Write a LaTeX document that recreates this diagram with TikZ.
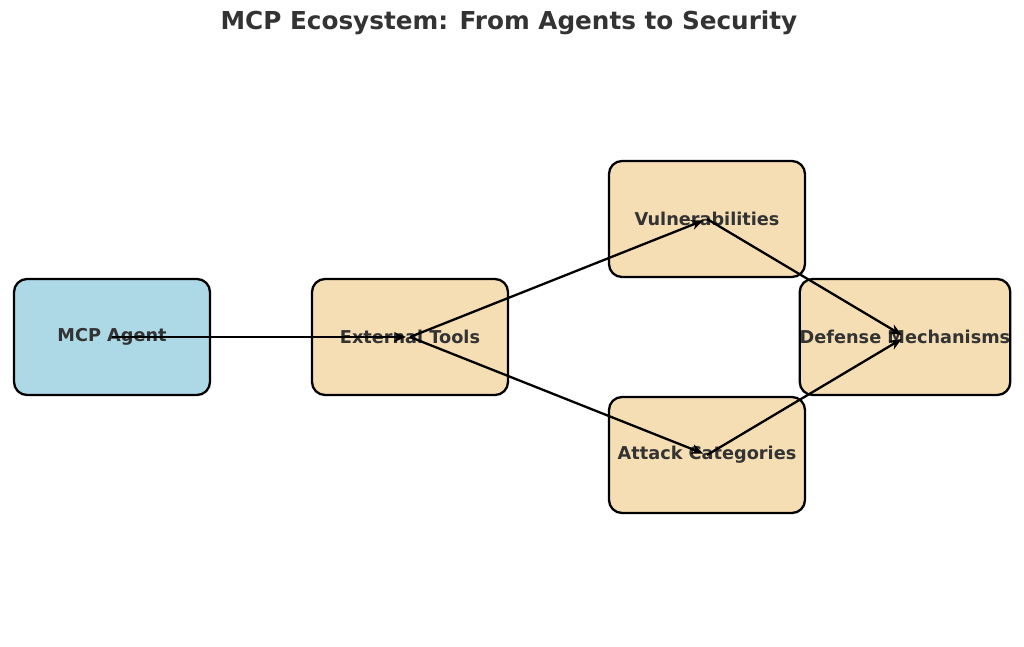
\documentclass[tikz,border=0pt]{standalone}
\usepackage{fontspec}
\setmainfont{DejaVu Sans}
\usetikzlibrary{arrows.meta}
\definecolor{agentblue}{HTML}{ADD8E6}
\definecolor{wheatbox}{HTML}{F5DEB3}
\definecolor{textgray}{HTML}{333333}
\begin{document}
\begin{tikzpicture}[x=1pt,y=-1pt]
\tikzset{box/.style={draw=black,line width=2.3pt,rounded corners=13pt,
  minimum width=196pt,minimum height=116pt,fill=wheatbox,
  font=\bfseries\fontsize{17.7}{20}\selectfont,text=textgray,inner sep=0pt},
  flow/.style={-{Stealth[length=12pt,width=10pt]},line width=2.3pt,shorten >=4pt}}
\useasboundingbox (0,0) rectangle (1024,646);
\node [font=\bfseries\fontsize{24.7}{28}\selectfont,text=textgray] (title) at (509,23) {MCP Ecosystem: From Agents to Security};
% boxes
\node [box,fill=agentblue] (agent) at (112,337) {MCP Agent};
\node [box] (tools) at (410,337) {External Tools};
\node [box] (vuln) at (707,219) {Vulnerabilities};
\node [box] (attack) at (707,455) {Attack Categories};
\node [box] (defense) at (905,337) {Defense Mechanisms};
% connectors
\draw [flow] (agent.center) -- (tools.center);
\draw [flow] (tools.center) -- (vuln.center);
\draw [flow] (tools.center) -- (attack.center);
\draw [flow] (vuln.center) -- (defense.center);
\draw [flow] (attack.center) -- (defense.center);
\end{tikzpicture}
\end{document}
